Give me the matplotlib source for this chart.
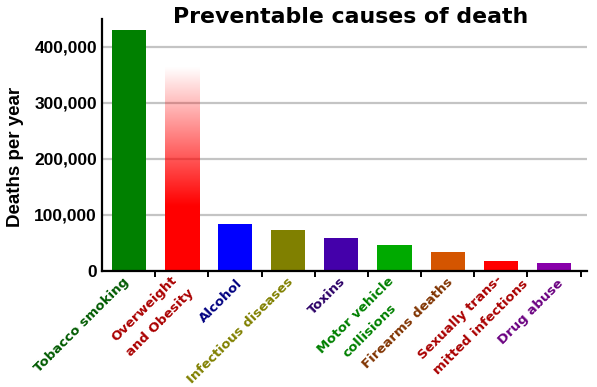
import numpy as np
import matplotlib
matplotlib.use("Agg")
import matplotlib.pyplot as plt

# ---- data ----
categories = ["Tobacco smoking", "Overweight\nand Obesity", "Alcohol",
              "Infectious diseases", "Toxins", "Motor vehicle\ncollisions",
              "Firearms deaths", "Sexually trans-\nmitted infections", "Drug abuse"]
deaths = [430000, 365000, 84000, 73000, 58000, 46000, 34000, 18000, 13000]
bar_colors = ["#008000", "#ff0000", "#0000ff", "#808000", "#4400aa",
              "#00aa00", "#d45500", "#ff0000", "#8800aa"]
label_colors = ["#005a00", "#aa0000", "#000080", "#808000", "#2b0066",
                "#008000", "#803300", "#aa0000", "#6a0080"]
yticks = [0, 100000, 200000, 300000, 400000]
ytick_labels = ["0", "100,000", "200,000", "300,000", "400,000"]
gradient_bar = 1  # index of the bar drawn with a fading gradient

# label layout (pixel nudges from bar centre at the axis, line alignment)
label_shift_px = [(-6.6, 4.3), (-9.0, 1.0), (0.7, 6.3), (-1.2, 4.3), (-2.4, 4.3),
                  (-7.6, 4.3), (-0.8, 4.3), (6.0, -8.0), (2.8, 6.3)]
label_align = ["center", "left", "center", "center", "center",
               "center", "center", "left", "center"]

DPI = 100
fig = plt.figure(figsize=(5.97, 3.87), dpi=DPI)
ax = fig.add_axes([102 / 597, (387 - 270.7) / 387, 485 / 597, 251.7 / 387])

x = np.arange(len(categories))
bars = ax.bar(x, deaths, width=0.64, color=bar_colors, zorder=3)

# gradient bar (red, fading to white at the top)
gb = bars[gradient_bar]
gb.set_facecolor("none")
f = np.linspace(0, 1, 256)
alpha = np.clip((1 - f) / 0.68, 0, 1)
rgba = np.zeros((256, 1, 4))
rgba[..., 0] = 1.0
rgba[..., 3] = alpha[:, None]
bx, bw, bh = gb.get_x(), gb.get_width(), gb.get_height()
im = ax.imshow(rgba, extent=[bx, bx + bw, 0, bh], origin="lower",
               aspect="auto", zorder=3, interpolation="bilinear")
im.set_clip_path(gb)

ax.set_xlim(-0.5, 8.62)
ax.set_ylim(0, 450000)

# grid / y ticks
ax.set_yticks(yticks)
ax.set_yticklabels(ytick_labels, fontfamily="Liberation Sans",
                   fontweight="bold", fontsize=12.5)
ax.tick_params(axis="y", length=0, pad=3.6)
ax.yaxis.grid(True, color="#c4c4c4", linewidth=1.6, zorder=0)
ax.set_axisbelow(True)

# spines
for s in ["top", "right"]:
    ax.spines[s].set_visible(False)
for s in ["left", "bottom"]:
    ax.spines[s].set_linewidth(1.6)
    ax.spines[s].set_color("black")
    ax.spines[s].set_zorder(4)

# x ticks at category boundaries, no tick labels
ax.set_xticks(x + 0.5)
ax.set_xticklabels([])
ax.tick_params(axis="x", which="major", length=4, width=1.4, direction="out")

# rotated category labels below each bar
for xi, text, col, (dx, dy), al in zip(x, categories, label_colors,
                                         label_shift_px, label_align):
    ax.annotate(text, xy=(xi, 0), xycoords="data",
                xytext=(dx * 72 / DPI, -dy * 72 / DPI), textcoords="offset points",
                rotation=45, rotation_mode="anchor", ha="right", va="top",
                multialignment=al, linespacing=1.75, color=col,
                fontfamily="DejaVu Sans", fontweight="bold", fontsize=9.5,
                annotation_clip=False)

# y label
fig.text(24.5 / 597, 1 - 157 / 387, "Deaths per year", rotation=90,
         ha="right", va="center", fontfamily="Liberation Sans",
         fontweight="bold", fontsize=13.5)

# title
fig.text(351 / 597, 1 - 23 / 387, "Preventable causes of death",
         ha="center", va="baseline", fontfamily="DejaVu Sans",
         fontweight="bold", fontsize=15.8)

fig.savefig("out.png", dpi=DPI)
